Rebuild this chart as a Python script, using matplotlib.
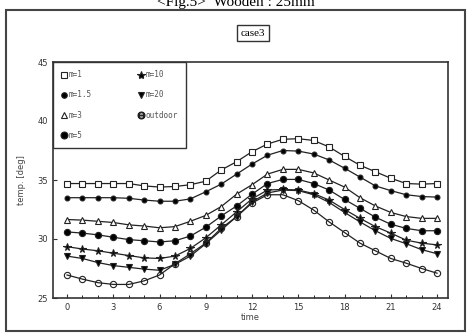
import numpy as np
import matplotlib.pyplot as plt
from matplotlib.lines import Line2D
from matplotlib.patches import Rectangle

# hourly temperatures
hours = np.arange(0, 25)
m1 = [34.7, 34.7, 34.7, 34.7, 34.7, 34.5, 34.4, 34.45, 34.6, 34.9, 35.85, 36.55, 37.4,
      38.05, 38.45, 38.5, 38.35, 37.8, 37.0, 36.25, 35.7, 35.15, 34.7, 34.65, 34.7]
m1_5 = [33.5, 33.5, 33.5, 33.5, 33.45, 33.3, 33.2, 33.2, 33.4, 34.0, 34.65, 35.5, 36.35,
        37.1, 37.5, 37.45, 37.2, 36.7, 36.0, 35.25, 34.5, 34.1, 33.75, 33.6, 33.55]
m3 = [31.65, 31.6, 31.5, 31.4, 31.2, 31.1, 30.95, 31.05, 31.5, 32.0, 32.75, 33.8, 34.6,
      35.5, 35.9, 35.9, 35.6, 35.0, 34.4, 33.5, 32.8, 32.25, 31.9, 31.75, 31.75]
m5 = [30.6, 30.5, 30.35, 30.15, 29.95, 29.85, 29.75, 29.85, 30.25, 31.0, 31.95, 32.8, 33.8,
      34.7, 35.05, 35.05, 34.7, 34.15, 33.35, 32.6, 31.85, 31.25, 30.9, 30.7, 30.7]
m10 = [29.35, 29.15, 29.0, 28.8, 28.6, 28.4, 28.35, 28.55, 29.2, 30.1, 31.2, 32.3, 33.4,
       34.15, 34.2, 34.15, 33.85, 33.3, 32.5, 31.75, 31.05, 30.5, 29.9, 29.65, 29.5]
m20 = [28.55, 28.35, 28.0, 27.75, 27.6, 27.45, 27.35, 27.85, 28.55, 29.6, 30.75, 31.9, 33.15,
       33.9, 34.15, 34.1, 33.75, 33.1, 32.25, 31.45, 30.7, 30.05, 29.6, 29.1, 28.75]
outdoor = [26.95, 26.6, 26.3, 26.15, 26.15, 26.45, 26.95, 27.9, 28.75, 29.65, 30.9, 31.9, 33.05,
           33.75, 33.75, 33.25, 32.45, 31.45, 30.55, 29.65, 29.0, 28.35, 27.95, 27.5, 27.1]

labels = ['m=1', 'm=1.5', 'm=3', 'm=5', 'm=10', 'm=20', 'outdoor']
series = [m1, m1_5, m3, m5, m10, m20, outdoor]
markers = ['s', 'o', '^', 'o', '*', 'v', 'o']
faces = ['white', 'black', 'white', 'black', 'black', 'black', 'none']
sizes = [4.5, 3.5, 4.5, 4.5, 5.5, 4.5, 4.5]

fig = plt.figure(figsize=(4.71, 3.34), dpi=100)
ax = fig.add_axes([53 / 471, 1 - 298 / 334, 395 / 471, 236 / 334])

for y, mk, fc, ms in zip(series, markers, faces, sizes):
    ax.plot(hours, y, color='#222222', lw=0.9, marker=mk, ms=ms,
            mfc=fc, mec='#222222', mew=0.8)

ax.set_xlim(-0.91, 24.71)
ax.set_ylim(25, 45)
ax.set_xticks(range(0, 25, 3))
ax.set_xticks(range(0, 25), minor=True)
ax.set_yticks(range(25, 46, 5))
ax.tick_params(direction='in', labelsize=6, colors='#333333', length=3)
ax.tick_params(which='minor', direction='in', length=2)
for s in ax.spines.values():
    s.set_linewidth(1.2)
    s.set_color('#333333')
ax.set_xlabel('time', fontsize=6, color='#444444', labelpad=1)
ax.set_ylabel('temp. [deg]', fontsize=6, color='#444444', labelpad=8)

# legend with marker-only entries
handles = []
for lab, mk, fc, ms in zip(labels, markers, faces, sizes):
    if lab == 'outdoor':
        mk, fc = r'$\ominus$', 'black'
    handles.append(Line2D([], [], ls='none', marker=mk, ms=ms + 0.5, mfc=fc,
                          mec='#222222', mew=0.8, label=lab))
leg = ax.legend(handles=handles, ncol=2, loc='upper left',
                bbox_to_anchor=(0, 1), borderaxespad=0, fancybox=False,
                framealpha=1, edgecolor='#333333', handlelength=0.6,
                handletextpad=0.3, columnspacing=6.2, labelspacing=1.45,
                borderpad=1.1, prop={'family': 'DejaVu Sans Mono', 'size': 5.5})
leg.get_frame().set_linewidth(1.0)
for t in leg.get_texts():
    t.set_color('#555555')

# case label box
fig.text(253 / 471, 1 - 33 / 334, 'case3', ha='center', va='center',
         fontsize=8, family='Liberation Serif',
         bbox=dict(boxstyle='square,pad=0.3', fc='white', ec='#333333', lw=1.0))

# cut-off figure caption at the top
fig.text(0.5, 1 - 6 / 334, '<Fig.5>  Wooden : 25mm', ha='center', va='baseline',
         fontsize=11, family='Liberation Serif')

# outer frame of the scanned page
fig.add_artist(Rectangle((6 / 471, 3 / 334), 459 / 471, 321 / 334,
                         transform=fig.transFigure, fill=False,
                         ec='#444444', lw=1.5))

fig.savefig('out.png', dpi=100)
